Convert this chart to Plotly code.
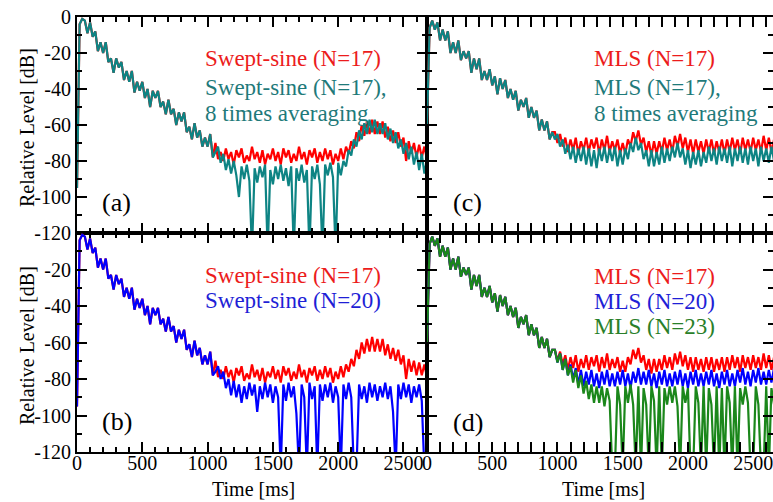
import plotly.graph_objects as go

# ---------------- data ----------------
time_ms = list(range(0, 2700, 20))          # sampling grid of the decay curves [ms]

# Swept-sine: common decay part (t = 0 .. 1040 ms)
swept_head = [-95, -4, -1, -2, -9, -3, -11, -8, -19, -14, -20, -14, -25, -23, -31, -23, -28, -25,
              -35, -30, -36, -30, -42, -36, -41, -36, -45, -40, -50, -41, -45, -41, -50, -47, -54,
              -46, -54, -51, -60, -53, -58, -53, -64, -61, -68, -59, -67, -63, -72, -67, -72, -65, -78]
# tails (t = 1060 .. 2680 ms)
swept17_tail = [-70, -79, -75, -80, -73, -79, -75, -82, -74, -78,
                -73, -81, -77, -80, -72, -79, -75, -81, -74, -82,
                -76, -79, -73, -80, -75, -82, -73, -78, -74, -81,
                -76, -80, -72, -79, -75, -82, -74, -78, -73, -81,
                -75, -80, -73, -79, -74, -82, -76, -80, -73, -79,
                -72, -76, -69, -73, -64, -69, -60, -66, -58, -65,
                -57, -65, -58, -65, -58, -67, -61, -69, -63, -70,
                -64, -72, -67, -80, -69, -76, -70, -78, -71, -78,
                -72, -79]
swept17_avg8_tail = [-75, -72, -81, -76, -85, -79, -87, -80, -88, -100,
                     -83, -90, -82, -91, -130, -84, -92, -83, -89, -82,
                     -130, -85, -93, -83, -90, -82, -91, -84, -94, -83,
                     -130, -84, -91, -82, -92, -85, -130, -83, -90, -82,
                     -93, -130, -82, -88, -81, -89, -130, -81, -88, -80,
                     -83, -74, -77, -68, -72, -63, -68, -59, -65, -57,
                     -64, -57, -65, -59, -65, -59, -68, -62, -70, -64,
                     -73, -68, -76, -70, -79, -72, -82, -75, -85, -76,
                     -87, -79]
swept20_tail = [-76, -73, -80, -76, -85, -80, -89, -81, -90, -83,
                -93, -84, -91, -82, -89, -83, -98, -84, -91, -82,
                -90, -83, -93, -84, -90, -130, -83, -92, -82, -90,
                -84, -99, -130, -83, -90, -130, -82, -91, -84, -130,
                -83, -92, -83, -90, -82, -93, -84, -90, -130, -83,
                -91, -82, -90, -130, -130, -83, -91, -84, -93, -82,
                -90, -83, -92, -84, -90, -82, -91, -84, -98, -130,
                -83, -91, -82, -90, -83, -93, -84, -90, -83, -92,
                -130, -130]

# MLS: common decay part (t = 0 .. 960 ms)
mls_head = [-60, -6, -2, -7, -3, -13, -7, -13, -8, -20, -14, -20, -13,
            -24, -19, -23, -19, -31, -23, -29, -23, -35, -30,
            -35, -29, -38, -33, -43, -34, -40, -35, -45, -40,
            -46, -41, -52, -46, -50, -45, -56, -50, -56, -52,
            -63, -57, -63, -58, -68, -64]
# tails (t = 980 .. 2680 ms)
mls17_tail = [-64, -70, -65, -72, -67, -75, -68, -74, -67, -76,
              -69, -74, -67, -75, -68, -73, -67, -76, -68, -74,
              -66, -75, -69, -74, -68, -76, -70, -76, -68, -72,
              -64, -69, -63, -71, -67, -75, -69, -77, -69, -76,
              -69, -75, -67, -74, -68, -75, -66, -72, -65, -73,
              -67, -75, -68, -76, -68, -75, -69, -76, -68, -75,
              -68, -76, -69, -75, -68, -76, -68, -75, -67, -74,
              -68, -76, -67, -74, -68, -75, -67, -74, -68, -75,
              -66, -74, -67, -75, -68, -74]
mls17_avg8_tail = [-68, -65, -72, -68, -76, -71, -79, -72, -81, -73,
                   -80, -72, -82, -73, -83, -74, -84, -73, -80, -72,
                   -81, -73, -80, -72, -83, -74, -82, -73, -79, -70,
                   -75, -67, -74, -70, -79, -74, -83, -74, -83, -75,
                   -82, -72, -81, -73, -80, -72, -78, -70, -78, -73,
                   -82, -74, -84, -75, -82, -74, -83, -75, -81, -72,
                   -80, -73, -82, -72, -80, -73, -81, -72, -83, -73,
                   -80, -72, -81, -73, -82, -72, -80, -73, -83, -72,
                   -80, -73, -81, -72, -80, -73]
mls20_tail = [-64, -71, -66, -75, -69, -78,
              -72, -80, -74, -83, -75, -84, -76, -83, -75, -84,
              -77, -85, -76, -83, -75, -84, -77, -84, -76, -83,
              -75, -84, -77, -85, -76, -82, -74, -83, -76, -83,
              -75, -84, -77, -85, -76, -83, -75, -84, -77, -84,
              -76, -83, -75, -84, -77, -85, -76, -83, -75, -84,
              -77, -84, -76, -83, -75, -84, -77, -85, -76, -83,
              -75, -84, -77, -84, -75, -82, -74, -83, -76, -84,
              -75, -82, -74, -83, -76, -83, -75, -82, -74, -83]
mls23_tail = [-64, -71, -66, -75, -69, -78, -73, -82, -75, -85,
              -78, -88, -81, -91, -83, -93, -84, -93, -84, -95,
              -85, -92, -130, -130, -84, -94, -130, -84, -93, -83,
              -94, -130, -84, -130, -85, -94, -130, -84, -92, -130,
              -84, -130, -85, -94, -84, -93, -84, -95, -130, -84,
              -93, -85, -130, -130, -84, -93, -130, -84, -130, -85,
              -94, -130, -84, -130, -85, -130, -84, -93, -130, -84,
              -130, -85, -94, -84, -93, -130, -130, -84, -94, -130,
              -130, -84, -130, -85, -94, -85]

swept17 = swept_head + swept17_tail
swept17_avg8 = swept_head + swept17_avg8_tail
swept20 = swept_head + swept20_tail
mls17 = mls_head + mls17_tail
mls17_avg8 = mls_head + mls17_avg8_tail
mls20 = mls_head + mls20_tail
mls23 = mls_head + mls23_tail

x_ticks = [0, 500, 1000, 1500, 2000, 2500]
y_ticks = [0, -20, -40, -60, -80, -100, -120]
y_labels_top = ["0", "-20", "-40", "-60", "-80", "-100", "-120"]
y_labels_bottom = ["", "-20", "-40", "-60", "-80", "-100", "-120"]

# ---------------- layout helpers ----------------
W, H = 773, 502
ML, MR, MT, MB = 77, 0, 17, 50
PW, PH = W - ML - MR, H - MT - MB
FONT = "Times New Roman, Liberation Serif, DejaVu Serif, serif"


def px(x):
    return (x - ML) / PW


def py(y):
    return (H - MB - y) / PH


XS = px(427)
YS = py(233)

RED, TEAL, BLUE, GREEN = "#ff0000", "#0e8484", "#0000ff", "#1b871b"
RED_T, TEAL_T, BLUE_T, GREEN_T = "#ec1c1c", "#1f7a7a", "#1f1fd6", "#2a7f2a"
LW = 2.2

fig = go.Figure()


def add(y, color, xa, ya):
    fig.add_trace(go.Scatter(x=time_ms, y=y, mode="lines", xaxis=xa, yaxis=ya,
                             line=dict(color=color, width=LW), showlegend=False,
                             hoverinfo="skip"))


# (a) top-left
add(swept17, RED, "x", "y")
add(swept17_avg8, TEAL, "x", "y")
# (c) top-right
add(mls17, RED, "x2", "y2")
add(mls17_avg8, TEAL, "x2", "y2")
# (b) bottom-left
add(swept17, RED, "x3", "y3")
add(swept20, BLUE, "x3", "y3")
# (d) bottom-right
add(mls17, RED, "x4", "y4")
add(mls20, BLUE, "x4", "y4")
add(mls23, GREEN, "x4", "y4")
# anchor traces for the right-side tick-only axes
fig.add_trace(go.Scatter(x=[None], y=[None], xaxis="x2", yaxis="y5", showlegend=False))
fig.add_trace(go.Scatter(x=[None], y=[None], xaxis="x4", yaxis="y6", showlegend=False))

tickfont = dict(family=FONT, size=20, color="black")
base = dict(showline=True, linecolor="black", linewidth=2, ticks="inside", ticklen=10,
            tickwidth=2, tickcolor="black", showgrid=False, zeroline=False,
            tickfont=tickfont, ticklabeloverflow="allow")


def xax(domain, anchor, rng, labels):
    return dict(base, domain=domain, anchor=anchor, range=rng, mirror="allticks",
                tickmode="array", tickvals=x_ticks, ticktext=[str(v) for v in x_ticks],
                showticklabels=labels, ticklabelstandoff=-8,
                minor=dict(ticks="inside", ticklen=5, tickwidth=1.5, tickcolor="black",
                           dtick=100, tick0=0, showgrid=False))


def yax(domain, anchor, labels, texts, mirror="allticks", **kw):
    d = dict(base, domain=domain, anchor=anchor, range=[-120, 0], mirror=mirror,
             tickmode="array", tickvals=y_ticks, ticktext=texts, showticklabels=labels,
             minor=dict(ticks="inside", ticklen=5, tickwidth=1.5, tickcolor="black",
                        dtick=10, tick0=0, showgrid=False))
    d.update(kw)
    return d


fig.update_layout(
    width=W, height=H, margin=dict(l=ML, r=MR, t=MT, b=MB, pad=0),
    paper_bgcolor="white", plot_bgcolor="white",
    font=dict(family=FONT, size=20, color="black"),
    xaxis=xax([0, XS], "y", [0, 2680], False),
    yaxis=yax([YS, 1], "x", True, y_labels_top),
    xaxis2=xax([XS, 1], "y2", [0, 2652], False),
    yaxis2=yax([YS, 1], "x2", False, y_labels_top, mirror=False),
    xaxis3=xax([0, XS], "y3", [0, 2680], True),
    yaxis3=yax([0, YS], "x3", True, y_labels_bottom),
    xaxis4=xax([XS, 1], "y4", [0, 2652], True),
    yaxis4=yax([0, YS], "x4", False, y_labels_bottom, mirror=False),
    yaxis5=yax([YS, 1], "x2", False, y_labels_top, mirror=False, overlaying="y2",
               side="right", showline=False),
    yaxis6=yax([0, YS], "x4", False, y_labels_bottom, mirror=False, overlaying="y4",
               side="right", showline=False),
)

ann = []


def text(x, y, s, color, size=23, anchor="left", angle=0):
    ann.append(dict(x=px(x), y=py(y), xref="paper", yref="paper", text=s, showarrow=False,
                    xanchor=anchor, yanchor="middle", textangle=angle,
                    font=dict(family=FONT, size=size, color=color)))


# legends
text(203, 58, "Swept-sine (N=17)", RED_T)
text(203, 87, "Swept-sine (N=17),", TEAL_T)
text(203, 113, "8 times averaging", TEAL_T)
text(592, 58, "MLS (N=17)", RED_T)
text(592, 87, "MLS (N=17),", TEAL_T)
text(592, 113, "8 times averaging", TEAL_T)
text(203, 275, "Swept-sine (N=17)", RED_T)
text(203, 300, "Swept-sine (N=20)", BLUE_T)
text(592, 276, "MLS (N=17)", RED_T)
text(592, 301, "MLS (N=20)", BLUE_T)
text(592, 326, "MLS (N=23)", GREEN_T)
# panel labels
text(100, 202, "(a)", "black", size=26)
text(451, 203, "(c)", "black", size=26)
text(100, 421, "(b)", "black", size=26)
text(451, 422, "(d)", "black", size=26)
# axis titles
text(27, 128, "Relative Level [dB]", "black", size=20, anchor="center", angle=-90)
text(27, 346, "Relative Level [dB]", "black", size=20, anchor="center", angle=-90)
text(253, 489, "Time [ms]", "black", size=20, anchor="center")
text(603, 489, "Time [ms]", "black", size=20, anchor="center")

fig.update_layout(annotations=ann)

fig.write_html("out.html")
